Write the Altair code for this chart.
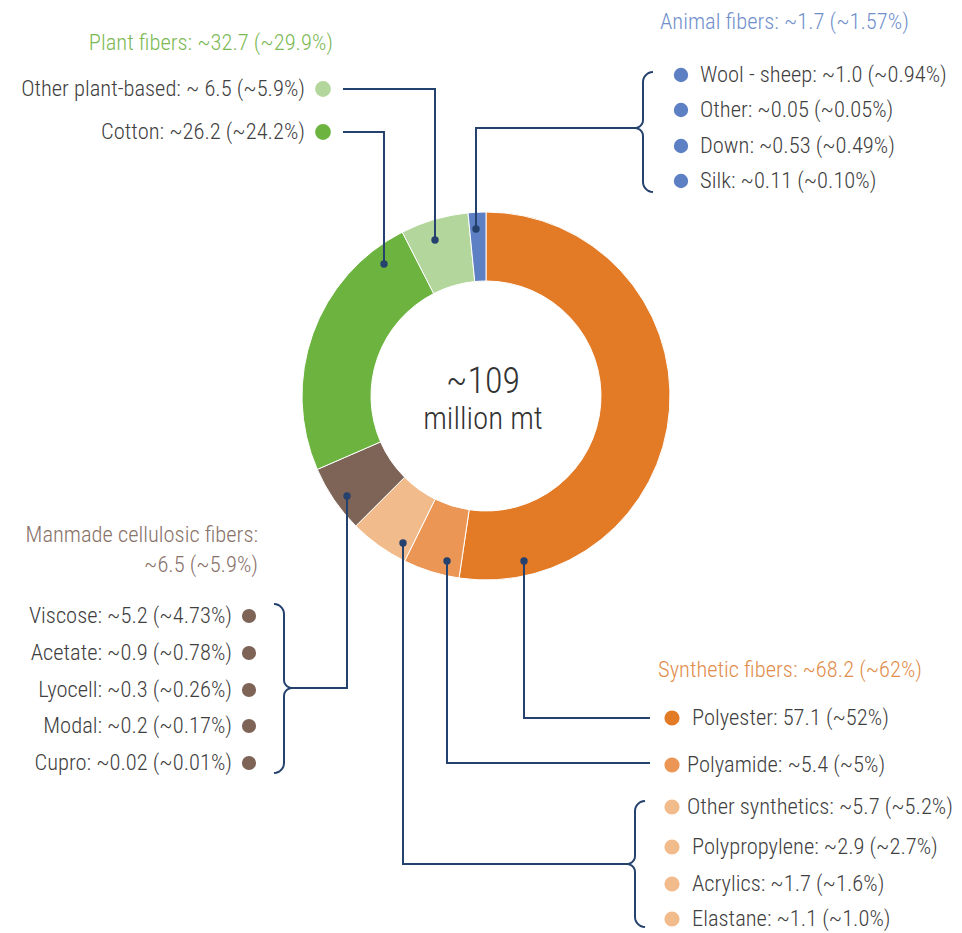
import altair as alt
import pandas as pd
import numpy as np

# ---------------- data ----------------
slice_names = ["Polyester", "Polyamide", "Other synthetics", "Manmade cellulosic",
               "Cotton", "Other plant-based", "Animal fibers"]
slice_values = [57.1, 5.4, 5.7, 6.5, 26.2, 6.5, 1.7]

center_big = "~109"
center_small = "million mt"

plant_title = "Plant fibers: ~32.7 (~29.9%)"
plant_labels = ["Other plant-based: ~ 6.5 (~5.9%)", "Cotton: ~26.2 (~24.2%)"]
plant_slices = ["Other plant-based", "Cotton"]

animal_title = "Animal fibers: ~1.7 (~1.57%)"
animal_labels = ["Wool - sheep: ~1.0 (~0.94%)", "Other: ~0.05 (~0.05%)",
                 "Down: ~0.53 (~0.49%)", "Silk: ~0.11 (~0.10%)"]

manmade_title = ["Manmade cellulosic fibers:", "~6.5 (~5.9%)"]
manmade_labels = ["Viscose: ~5.2 (~4.73%)", "Acetate: ~0.9 (~0.78%)",
                  "Lyocell: ~0.3 (~0.26%)", "Modal: ~0.2 (~0.17%)",
                  "Cupro: ~0.02 (~0.01%)"]

synthetic_title = "Synthetic fibers: ~68.2 (~62%)"
synthetic_labels = ["Polyester: 57.1 (~52%)", "Polyamide: ~5.4 (~5%)",
                    "Other synthetics: ~5.7 (~5.2%)", "Polypropylene: ~2.9 (~2.7%)",
                    "Acrylics: ~1.7 (~1.6%)", "Elastane: ~1.1 (~1.0%)"]
synthetic_slices = ["Polyester", "Polyamide", "Other synthetics", "Other synthetics",
                    "Other synthetics", "Other synthetics"]

# ---------------- styles ----------------
slice_colors = ["#E27A26", "#EC9655", "#F2BB8C", "#7E6357", "#6CB33F", "#B3D69C", "#5D7FC3"]
NAVY = "#25426F"
TEXT = "#404040"
TITLE_COLORS = {"plant": "#7CB954", "animal": "#7190CB", "manmade": "#88726A", "synth": "#DF8D4B"}
FONT = "Roboto Condensed, Liberation Sans Narrow, DejaVu Sans Condensed, Arial Narrow, sans-serif"
FS = 22.5
FW = 300

# ---------------- layout (page pixel coordinates) ----------------
W, H = 946, 925
X0, Y0 = 8, 8
CX, CY = 486, 396
R_OUT, R_IN = 184, 115

plant_title_pos = (333, 43)
plant_label_x, plant_label_y = 305, [89, 132]
plant_dot_x = 323

animal_title_pos = (660, 22)
animal_label_x, animal_label_y = 700, [75, 110, 146, 181]
animal_dot_x = 681

manmade_title_x, manmade_title_y = 258, [535, 565]
manmade_label_x, manmade_label_y = 232, [616, 653, 690, 726, 763]
manmade_dot_x = 249

synth_title_pos = (658, 670)
synth_label_x = [692, 687, 687, 692, 692, 692]
synth_label_y = [718, 765, 807, 847, 884, 919]
synth_dot_x = 672

leaders = [  # polylines from label side to the slice
    [(343, 89), (435, 89), (435, 240)],
    [(343, 132), (384, 132), (384, 264)],
    [(635, 128), (476, 128), (476, 229)],
    [(289, 688), (347, 688), (347, 496)],
    [(403, 543), (403, 864), (627, 864)],
    [(447, 561), (447, 763), (650, 763)],
    [(524, 561), (524, 718), (650, 718)],
]
slice_dots = [(435, 240), (384, 264), (476, 229), (347, 496), (403, 543), (447, 561), (524, 561)]

# braces: spine x, top y, bottom y, tip y, direction (+1 = "{" , -1 = "}")
braces = [
    (643, 72, 192, 128, 1),
    (284, 604, 773, 688, -1),
    (635, 801, 927, 864, 1),
]


def brace_points(xs, yt, yb, ym, d, r=10, r2=8):
    pts = []
    a = np.linspace(0, np.pi / 2, 8)
    cx, cy = xs + d * r, yt + r
    for t in a:
        pts.append((cx - d * r * np.sin(t), cy - r * np.cos(t)))
    cx, cy = xs - d * r2, ym - r2
    for t in a:
        pts.append((cx + d * r2 * np.cos(t), cy + r2 * np.sin(t)))
    cx, cy = xs - d * r2, ym + r2
    for t in a:
        pts.append((cx + d * r2 * np.sin(t), cy - r2 * np.cos(t)))
    cx, cy = xs + d * r, yb - r
    for t in a:
        pts.append((cx - d * r * np.cos(t), cy + r * np.sin(t)))
    return pts


# ---------------- tables ----------------
line_rows = []
for i, pl in enumerate(leaders):
    for j, (x, y) in enumerate(pl):
        line_rows.append({"id": f"L{i}", "seq": j, "x": x, "y": y})
for i, b in enumerate(braces):
    for j, (x, y) in enumerate(brace_points(*b)):
        line_rows.append({"id": f"B{i}", "seq": j, "x": x, "y": y})
lines_df = pd.DataFrame(line_rows)

dots_rows = []
for name, y in zip(plant_slices, plant_label_y):
    dots_rows.append({"name": name, "x": plant_dot_x, "y": y, "s": 250})
for y in animal_label_y:
    dots_rows.append({"name": "Animal fibers", "x": animal_dot_x, "y": y, "s": 205})
for y in manmade_label_y:
    dots_rows.append({"name": "Manmade cellulosic", "x": manmade_dot_x, "y": y, "s": 200})
for name, y in zip(synthetic_slices, synth_label_y):
    dots_rows.append({"name": name, "x": synth_dot_x, "y": y, "s": 230})
dots_df = pd.DataFrame(dots_rows)

sdots_df = pd.DataFrame([{"x": x, "y": y} for x, y in slice_dots])

right_rows = [{"t": plant_title, "x": plant_title_pos[0], "y": plant_title_pos[1], "c": TITLE_COLORS["plant"]}]
right_rows += [{"t": t, "x": plant_label_x, "y": y, "c": TEXT} for t, y in zip(plant_labels, plant_label_y)]
right_rows += [{"t": t, "x": manmade_title_x, "y": y, "c": TITLE_COLORS["manmade"]} for t, y in zip(manmade_title, manmade_title_y)]
right_rows += [{"t": t, "x": manmade_label_x, "y": y, "c": TEXT} for t, y in zip(manmade_labels, manmade_label_y)]
right_df = pd.DataFrame(right_rows)

left_rows = [{"t": animal_title, "x": animal_title_pos[0], "y": animal_title_pos[1], "c": TITLE_COLORS["animal"]}]
left_rows += [{"t": t, "x": animal_label_x, "y": y, "c": TEXT} for t, y in zip(animal_labels, animal_label_y)]
left_rows += [{"t": synthetic_title, "x": synth_title_pos[0], "y": synth_title_pos[1], "c": TITLE_COLORS["synth"]}]
left_rows += [{"t": t, "x": x, "y": y, "c": TEXT} for t, x, y in zip(synthetic_labels, synth_label_x, synth_label_y)]
left_df = pd.DataFrame(left_rows)

center_df = pd.DataFrame([
    {"t": center_big, "x": 483, "y": 382, "s": 36},
    {"t": center_small, "x": 483, "y": 420, "s": 31},
])

donut_df = pd.DataFrame({"name": slice_names, "value": slice_values, "order": list(range(len(slice_names)))})

# ---------------- scales ----------------
xsc = alt.Scale(domain=[X0, X0 + W], nice=False, zero=False)
ysc = alt.Scale(domain=[Y0, Y0 + H], nice=False, zero=False, reverse=True)
X = alt.X("x:Q", scale=xsc, axis=None)
Y = alt.Y("y:Q", scale=ysc, axis=None)
color_scale = alt.Scale(domain=slice_names, range=slice_colors)

donut = alt.Chart(donut_df).mark_arc(
    outerRadius=R_OUT, innerRadius=R_IN, stroke="white", strokeWidth=1
).encode(
    theta=alt.Theta("value:Q", stack=True),
    order=alt.Order("order:Q"),
    color=alt.Color("name:N", scale=color_scale, legend=None),
    x=alt.value(CX - X0),
    y=alt.value(CY - Y0),
)

lines = alt.Chart(lines_df).mark_line(color=NAVY, strokeWidth=2).encode(
    x=X, y=Y, detail="id:N", order="seq:Q"
)

slice_dot_layer = alt.Chart(sdots_df).mark_circle(color=NAVY, opacity=1, size=55).encode(x=X, y=Y)

dots = alt.Chart(dots_df).mark_circle(opacity=1).encode(
    x=X, y=Y,
    color=alt.Color("name:N", scale=color_scale, legend=None),
    size=alt.Size("s:Q", scale=None, legend=None),
)

right_text = alt.Chart(right_df).mark_text(align="right", baseline="middle", font=FONT, fontSize=FS, fontWeight=FW).encode(
    x=X, y=Y, text="t:N", fill=alt.Fill("c:N", scale=None)
)
left_text = alt.Chart(left_df).mark_text(align="left", baseline="middle", font=FONT, fontSize=FS, fontWeight=FW).encode(
    x=X, y=Y, text="t:N", fill=alt.Fill("c:N", scale=None)
)
center_text = alt.Chart(center_df).mark_text(align="center", baseline="middle", font=FONT, fontWeight=FW, color="#333333").encode(
    x=X, y=Y, text="t:N", size=alt.Size("s:Q", scale=None, legend=None)
)

chart = alt.layer(donut, lines, slice_dot_layer, dots, right_text, left_text, center_text).properties(
    width=W, height=H, padding=0, autosize=alt.AutoSizeParams(type="none"),
    background="white",
).configure_view(stroke=None)

chart.save("out.html", embed_options={"renderer": "svg", "actions": False})
